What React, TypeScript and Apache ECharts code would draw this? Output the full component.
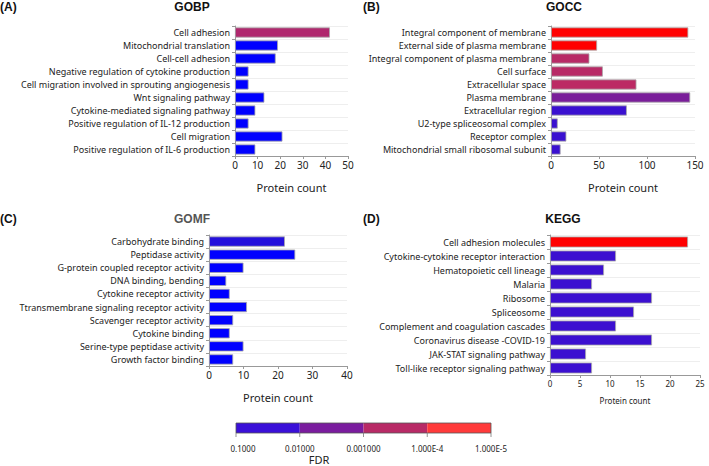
import React, { useEffect, useRef } from "react";
import * as echarts from "echarts";

// ---------- DATA ----------
const gobpTerms = [
  "Cell adhesion",
  "Mitochondrial translation",
  "Cell-cell adhesion",
  "Negative regulation of cytokine production",
  "Cell migration involved in sprouting angiogenesis",
  "Wnt signaling pathway",
  "Cytokine-mediated signaling pathway",
  "Positive regulation of IL-12 production",
  "Cell migration",
  "Positive regulation of IL-6 production",
];
const gobpCounts = [42, 19, 18, 6, 6, 13, 9, 6, 21, 9];
const gobpColors = ["#B0286E", "#0000FF", "#0000FF", "#0000FF", "#0000FF", "#0000FF", "#0000FF", "#0000FF", "#0000FF", "#0000FF"];

const goccTerms = [
  "Integral component of membrane",
  "External side of plasma membrane",
  "Integral component of plasma membrane",
  "Cell surface",
  "Extracellular space",
  "Plasma membrane",
  "Extracellular region",
  "U2-type spliceosomal complex",
  "Receptor complex",
  "Mitochondrial small ribosomal subunit",
];
const goccCounts = [143, 48, 40, 54, 89, 145, 79, 7, 16, 10];
const goccColors = ["#FF0000", "#FF0000", "#B82A66", "#B82A66", "#BC2A64", "#7A1E9A", "#3A10D0", "#3A10D0", "#3A10D0", "#3A10D0"];

const gomfTerms = [
  "Carbohydrate binding",
  "Peptidase activity",
  "G-protein coupled receptor activity",
  "DNA binding, bending",
  "Cytokine receptor activity",
  "Ttransmembrane signaling receptor activity",
  "Scavenger receptor activity",
  "Cytokine binding",
  "Serine-type peptidase activity",
  "Growth factor binding",
];
const gomfCounts = [22, 25, 10, 5, 6, 11, 7, 6, 10, 7];
const gomfColors = ["#2410DC", "#0000FF", "#0000FF", "#0000FF", "#0000FF", "#0000FF", "#0000FF", "#0000FF", "#0000FF", "#0000FF"];

const keggTerms = [
  "Cell adhesion molecules",
  "Cytokine-cytokine receptor interaction",
  "Hematopoietic cell lineage",
  "Malaria",
  "Ribosome",
  "Spliceosome",
  "Complement and coagulation cascades",
  "Coronavirus disease -COVID-19",
  "JAK-STAT signaling pathway",
  "Toll-like receptor signaling pathway",
];
const keggCounts = [23, 11, 9, 7, 17, 14, 11, 17, 6, 7];
const keggColors = ["#FF0000", "#3C10D0", "#3C10D0", "#3C10D0", "#3C10D0", "#3C10D0", "#3C10D0", "#3C10D0", "#3C10D0", "#3C10D0"];

const fdrLabels = ["0.1000", "0.01000", "0.001000", "1.000E-4", "1.000E-5"];
const fdrColors = ["#3A10D8", "#7A1C9E", "#B82A66", "#FF3A3A"];

const panelLetters = ["(A)", "(B)", "(C)", "(D)"];
const panelTitles = ["GOBP", "GOCC", "GOMF", "KEGG"];
const axisMax = [50, 150, 40, 25];
const axisInterval = [10, 50, 10, 5];

// ---------- LAYOUT ----------
const FONT = "Liberation Sans, Arial, sans-serif";
const LFONT = "Noto Sans, Liberation Sans, sans-serif";
const grids = [
  { left: 235, top: 26, width: 113, height: 130 },
  { left: 551, top: 26, width: 144, height: 130 },
  { left: 209, top: 235, width: 138, height: 131 },
  { left: 550, top: 235, width: 150, height: 140 },
];
const letterPos = [
  [0, 1],
  [363, 1],
  [0, 213],
  [363, 213],
];
const titlePos = [
  [192, 1],
  [564, 1],
  [192, 213],
  [563, 213],
];
const titleColors = ["#111", "#111", "#555", "#111"];

export default function App() {
  const ref = useRef<HTMLDivElement>(null);

  useEffect(() => {
    document.body.style.margin = "0";
    const chart = echarts.init(ref.current!, undefined, { renderer: "svg" });
    const panels = [
      { terms: gobpTerms, counts: gobpCounts, colors: gobpColors },
      { terms: goccTerms, counts: goccCounts, colors: goccColors },
      { terms: gomfTerms, counts: gomfCounts, colors: gomfColors },
      { terms: keggTerms, counts: keggCounts, colors: keggColors },
    ];

    const xAxes = panels.map((_, i) => ({
      type: "value",
      gridIndex: i,
      min: 0,
      max: axisMax[i],
      interval: axisInterval[i],
      name: "Protein count",
      nameLocation: "middle",
      nameGap: i === 3 ? 21 : 26,
      nameTextStyle: { fontFamily: LFONT, fontSize: i === 3 ? 8 : 11, color: "#222" },
      axisLine: { show: true, lineStyle: { color: "#999", width: 1 } },
      axisTick: { show: true, length: 3, lineStyle: { color: "#999" } },
      axisLabel: { fontFamily: LFONT, fontSize: i === 3 ? 8 : 10, color: "#222", margin: 4 },
      splitLine: { show: false },
    }));

    const yAxes = panels.map((p, i) => ({
      type: "category",
      gridIndex: i,
      data: p.terms,
      inverse: true,
      axisLine: { show: true, lineStyle: { color: "#999", width: 1 } },
      axisTick: { show: true, length: 3, lineStyle: { color: "#999" } },
      axisLabel: { fontFamily: LFONT, fontSize: 9, color: "#222", margin: 5 },
      splitLine: { show: true, lineStyle: { color: "#eeeeee", width: 1 } },
    }));

    const series = panels.map((p, i) => ({
      type: "bar",
      xAxisIndex: i,
      yAxisIndex: i,
      barCategoryGap: "22%",
      data: p.counts.map((v, j) => ({
        value: v,
        itemStyle: { color: p.colors[j], borderColor: "#aaaaaa", borderWidth: 0.8 },
      })),
    }));

    const graphics: any[] = [];
    panelLetters.forEach((t, i) => {
      graphics.push({
        type: "text",
        x: letterPos[i][0],
        y: letterPos[i][1],
        style: { text: t, fontFamily: FONT, fontSize: 12, fontWeight: "bold", fill: "#111" },
      });
      graphics.push({
        type: "text",
        x: titlePos[i][0],
        y: titlePos[i][1],
        style: {
          text: panelTitles[i],
          fontFamily: FONT,
          fontSize: 12,
          fontWeight: "bold",
          fill: titleColors[i],
          textAlign: "center",
        },
      });
    });

    // FDR color bar legend
    const barX = 236;
    const barY = 423;
    const segW = 63.75;
    const segH = 10;
    fdrColors.forEach((c, i) => {
      graphics.push({
        type: "rect",
        shape: { x: barX + i * segW, y: barY, width: segW, height: segH },
        style: { fill: c, stroke: "none" },
      });
    });
    graphics.push({
      type: "rect",
      shape: { x: barX, y: barY, width: segW * fdrColors.length, height: segH },
      style: { fill: "none", stroke: "#555", lineWidth: 0.8 },
    });
    fdrLabels.forEach((t, i) => {
      const x = barX + i * segW;
      graphics.push({
        type: "line",
        shape: { x1: x, y1: barY + segH, x2: x, y2: barY + segH + 4 },
        style: { stroke: "#777", lineWidth: 0.8 },
      });
      graphics.push({
        type: "text",
        x: i === 0 ? x + 7 : x,
        y: 444,
        style: { text: t, fontFamily: LFONT, fontSize: 8, fill: "#222", textAlign: "center" },
      });
    });
    graphics.push({
      type: "text",
      x: 319,
      y: 454,
      style: { text: "FDR", fontFamily: LFONT, fontSize: 11, fill: "#222", textAlign: "center" },
    });

    chart.setOption({
      animation: false,
      backgroundColor: "#ffffff",
      grid: grids.map((g) => ({ ...g, containLabel: false })),
      xAxis: xAxes,
      yAxis: yAxes,
      series,
      graphic: graphics,
    });

    return () => chart.dispose();
  }, []);

  return <div ref={ref} style={{ width: 709, height: 466 }} />;
}
